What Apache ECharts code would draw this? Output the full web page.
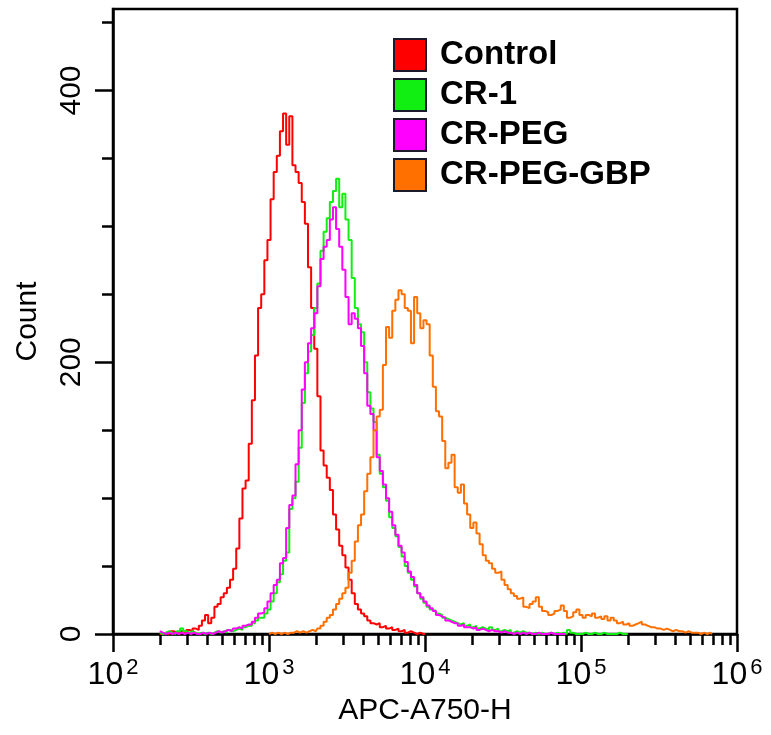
<!DOCTYPE html>
<html>
<head>
<meta charset="utf-8">
<script src="https://cdn.jsdelivr.net/npm/echarts@6/dist/echarts.min.js"></script>
<style>
  html, body { margin: 0; padding: 0; background: #fff; }
  #chart { width: 771px; height: 735px; }
</style>
</head>
<body>
<div id="chart"></div>
<script>
// histogram bins are 0.02 decade wide, x is log10(APC-A750-H)
var binStep = 0.02;

var seriesNames = ['Control', 'CR-1', 'CR-PEG', 'CR-PEG-GBP'];
var seriesColors = ['#ff0000', '#11ee11', '#ff00ff', '#ff7000'];

var controlStart = 2.30;
var controlCounts = [
    0, 0, 1, 0, 2, 1, 0, 2, 1, 3,
    2, 4, 3, 6, 10, 14, 8, 12, 20, 22,
    27, 30, 34, 40, 48, 63, 85, 107, 113, 140,
    172, 205, 240, 250, 275, 290, 320, 340, 352, 370,
    383, 360, 381, 345, 340, 332, 318, 302, 270, 240,
    210, 175, 135, 124, 115, 106, 88, 77, 65, 58,
    49, 40, 30, 22, 18, 15, 13, 10, 8, 7,
    8, 5, 6, 4, 5, 3, 4, 2, 3, 1,
    2, 1, 0, 1, 0, 0
];

var cr1Start = 2.30;
var cr1Counts = [
    1, 0, 1, 2, 1, 0, 2, 4, 2, 1,
    2, 1, 0, 1, 0, 1, 0, 1, 2, 1,
    2, 1, 3, 2, 3, 4, 3, 5, 6, 6,
    8, 10, 12, 12, 15, 18, 24, 30, 38, 44,
    54, 60, 92, 100, 112, 137, 170, 192, 208, 220,
    240, 258, 282, 296, 306, 318, 326, 335, 314, 324,
    305, 290, 262, 240, 228, 222, 200, 178, 166, 156,
    132, 118, 108, 98, 86, 78, 72, 64, 57, 50,
    45, 40, 35, 30, 26, 23, 20, 18, 17, 15,
    14, 12, 11, 10, 9, 8, 7, 8, 6, 7,
    5, 6, 4, 5, 4, 3, 5, 3, 4, 2,
    3, 2, 3, 1, 2, 1, 2, 1, 1, 0,
    1, 0, 1, 0, 0, 1, 0, 1, 0, 1,
    0, 3, 1, 0, 0, 0, 1, 0, 0, 1,
    0, 0, 1, 0, 0, 0, 0, 1, 0, 0,
    0
];

var pegStart = 2.30;
var pegCounts = [
    2, 1, 0, 1, 0, 1, 0, 1, 0, 1,
    0, 1, 0, 0, 1, 0, 1, 0, 1, 2,
    1, 2, 3, 2, 4, 5, 4, 6, 7, 7,
    9, 12, 15, 16, 19, 24, 30, 36, 40, 52,
    56, 78, 95, 102, 125, 150, 180, 200, 214, 225,
    236, 256, 276, 285, 290, 305, 314, 298, 285, 268,
    248, 228, 236, 232, 225, 212, 192, 168, 162, 150,
    130, 120, 110, 100, 90, 80, 73, 65, 60, 53,
    46, 42, 36, 30, 27, 24, 21, 19, 17, 14,
    13, 12, 10, 9, 8, 8, 6, 7, 5, 5,
    4, 5, 3, 4, 3, 2, 3, 2, 2, 1,
    2, 1, 1, 0, 1, 0, 1, 0, 1, 0,
    0, 1, 0, 0, 0, 1, 0, 0, 0, 0,
    0
];

var gbpStart = 3.00;
var gbpCounts = [
    0, 1, 0, 1, 0, 1, 0, 1, 1, 2,
    1, 2, 1, 2, 3, 2, 4, 6, 9, 12,
    14, 18, 22, 26, 30, 34, 45, 54, 68, 80,
    88, 105, 118, 130, 150, 160, 165, 198, 226, 218,
    238, 246, 253, 250, 240, 238, 214, 248, 236, 225,
    231, 228, 205, 182, 164, 160, 142, 122, 126, 132,
    108, 104, 110, 96, 88, 78, 82, 74, 66, 58,
    54, 52, 48, 45, 46, 40, 36, 33, 30, 28,
    26, 27, 20, 19, 22, 24, 27, 20, 17, 16,
    14, 15, 17, 18, 21, 17, 12, 13, 16, 18,
    14, 12, 14, 13, 15, 12, 13, 11, 13, 10,
    12, 10, 8, 9, 7, 8, 6, 7, 8, 9,
    7, 6, 5, 5, 4, 4, 3, 4, 3, 2,
    3, 2, 2, 1, 2, 1, 1, 1, 0, 1,
    0, 1, 0
];

// axis ticks
var xDecades = [2, 3, 4, 5, 6];
var xMinorTicks = [];
xDecades.slice(0, -1).forEach(function (k) {
    for (var m = 2; m <= 9; m++) {
        xMinorTicks.push(k + Math.log10(m));
    }
});
var yTickLabels = [0, 200, 400];
var yMinorTicks = [50, 100, 150, 250, 300, 350, 450];

function toPoints(start, counts) {
    return counts.map(function (c, i) {
        return [+(start + i * binStep).toFixed(3), c];
    });
}

var font = 'Arial, "Liberation Sans", Helvetica, sans-serif';
var black = '#000';

var chart = echarts.init(document.getElementById('chart'), null, { renderer: 'canvas' });

var datasets = [
    toPoints(controlStart, controlCounts),
    toPoints(cr1Start, cr1Counts),
    toPoints(pegStart, pegCounts),
    toPoints(gbpStart, gbpCounts)
];

chart.setOption({
    backgroundColor: '#fff',
    animation: false,
    grid: {
        left: 113, right: 34, top: 9, bottom: 101,
        show: true, borderColor: black, borderWidth: 2.5
    },
    legend: {
        orient: 'vertical',
        left: 393, top: 38,
        padding: 0,
        icon: 'rect',
        itemWidth: 32, itemHeight: 32, itemGap: 6,
        itemStyle: { borderColor: '#1a1a2a', borderWidth: 2 },
        textStyle: {
            fontFamily: font, fontSize: 33, fontWeight: 'bold', color: black,
            lineHeight: 32, padding: [0, 0, 0, 9]
        },
        data: seriesNames
    },
    xAxis: [{
        type: 'value', min: 2, max: 6, interval: 1,
        position: 'bottom',
        name: 'APC-A750-H', nameLocation: 'middle', nameGap: 60,
        nameTextStyle: { fontFamily: font, fontSize: 30, color: black },
        axisLine: { lineStyle: { color: black, width: 2.5 } },
        axisTick: { length: 18, lineStyle: { color: black, width: 2.5 } },
        splitLine: { show: false },
        axisLabel: {
            margin: 23,
            formatter: function (v) { return '{b|10}{s|' + v + '}'; },
            rich: {
                b: { fontFamily: font, fontSize: 32, color: black, lineHeight: 36 },
                s: { fontFamily: font, fontSize: 22, color: black, lineHeight: 22,
                     verticalAlign: 'top', padding: [0, 0, 0, 3] }
            }
        }
    }, {
        type: 'value', min: 2, max: 6,
        position: 'bottom',
        axisLine: { show: false },
        axisTick: { customValues: xMinorTicks, length: 11, lineStyle: { color: black, width: 2.5 } },
        axisLabel: { show: false },
        splitLine: { show: false }
    }],
    yAxis: [{
        type: 'value', min: 0, max: 460,
        name: 'Count', nameLocation: 'middle', nameGap: 70,
        nameTextStyle: { fontFamily: font, fontSize: 30, color: black },
        axisLine: { lineStyle: { color: black, width: 2.5 } },
        axisTick: { customValues: yTickLabels, length: 18, lineStyle: { color: black, width: 2.5 } },
        splitLine: { show: false },
        axisLabel: {
            customValues: yTickLabels,
            rotate: 90, margin: 26,
            fontFamily: font, fontSize: 30, color: black
        }
    }, {
        type: 'value', min: 0, max: 460,
        position: 'left',
        axisLine: { show: false },
        axisTick: { customValues: yMinorTicks, length: 11, lineStyle: { color: black, width: 2.5 } },
        axisLabel: { show: false },
        splitLine: { show: false }
    }],
    series: seriesNames.map(function (name, i) {
        return {
            name: name,
            type: 'line',
            step: 'middle',
            showSymbol: false,
            color: seriesColors[i],
            lineStyle: { width: 2, color: seriesColors[i] },
            data: datasets[i]
        };
    })
});
</script>
</body>
</html>
